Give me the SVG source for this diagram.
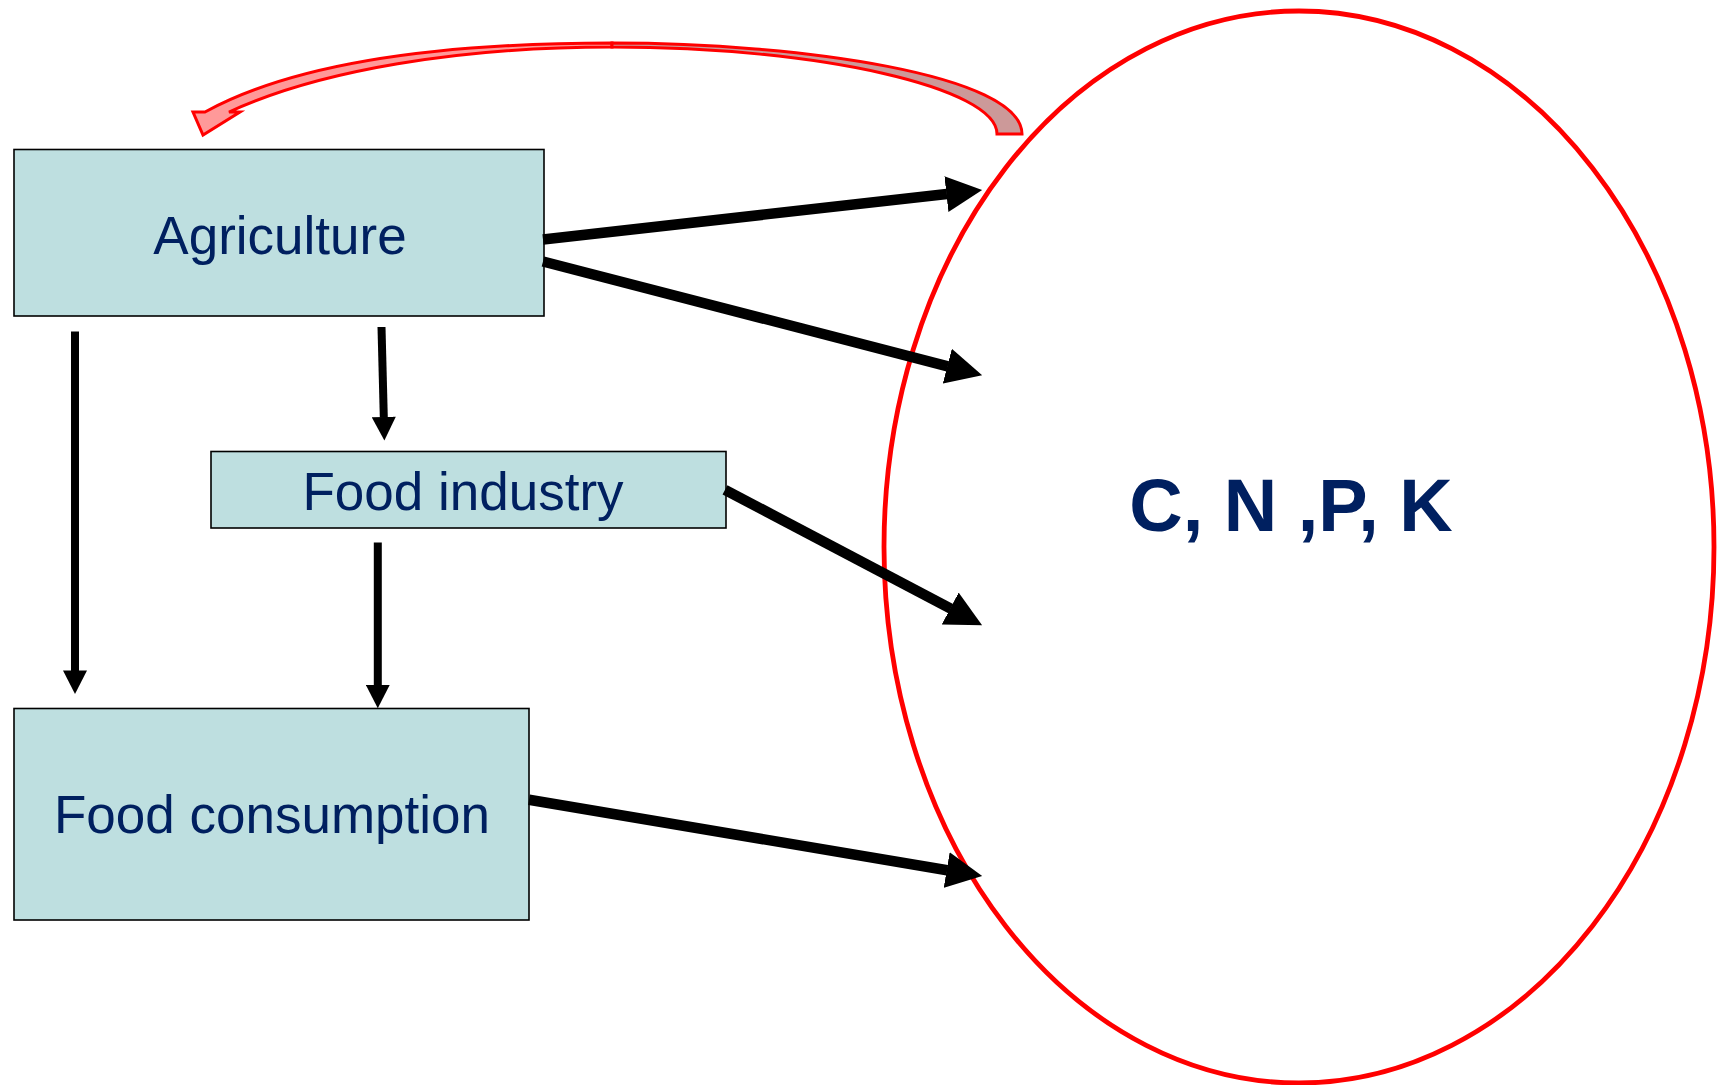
<svg xmlns="http://www.w3.org/2000/svg" width="1722" height="1085" viewBox="0 0 1722 1085">
  <style>
    .box { fill: #BEDFE0; stroke: #000000; stroke-width: 1.6; }
    .lbl { font-family: "Liberation Sans", Arial, sans-serif; font-size: 53px; fill: #002060; text-anchor: middle; }
    .big { font-family: "Liberation Sans", Arial, sans-serif; font-size: 74px; font-weight: bold; fill: #002060; text-anchor: middle; }
    .thick { stroke: #000000; stroke-width: 10.5; fill: none; marker-end: url(#bigHead); }
    .thin { stroke: #000000; stroke-width: 8; fill: none; marker-end: url(#smallHead); }
    .curve { stroke: #FF0000; stroke-width: 3; stroke-linejoin: miter; }
  </style>
  <defs>
    <marker id="bigHead" markerUnits="userSpaceOnUse" markerWidth="36" markerHeight="36" viewBox="0 0 35 35" refX="0.5" refY="17.5" orient="auto">
      <path d="M0,0 L35,17.5 L0,35 Z" fill="#000000"/>
    </marker>
    <marker id="smallHead" markerUnits="userSpaceOnUse" markerWidth="24" markerHeight="24" viewBox="0 0 23 23.5" refX="0.5" refY="11.75" orient="auto">
      <path d="M0,0 L23,11.75 L0,23.5 Z" fill="#000000"/>
    </marker>
  </defs>

  <g id="cycle">
    <ellipse cx="1299" cy="547" rx="415" ry="536" fill="none" stroke="#FF0000" stroke-width="4.8"/>
    <text class="big" x="1291" y="531">C, N ,P, K</text>
  </g>

  <g id="agriculture">
    <rect class="box" x="14" y="149.5" width="530" height="166.5"/>
    <text class="lbl" x="280" y="254">Agriculture</text>
  </g>

  <g id="food-industry">
    <rect class="box" x="211" y="451.5" width="515" height="76.5"/>
    <text class="lbl" x="463" y="510">Food industry</text>
  </g>

  <g id="food-consumption">
    <rect class="box" x="14" y="708.5" width="515" height="211.5"/>
    <text class="lbl" x="272" y="833">Food consumption</text>
  </g>

  <g id="connectors">
    <line class="thick" x1="543" y1="239.5" x2="946.9" y2="194"/>
    <line class="thick" x1="543" y1="261.5" x2="947.8" y2="366.3"/>
    <line class="thick" x1="725" y1="489.8" x2="950.7" y2="608.7"/>
    <line class="thick" x1="529" y1="799.8" x2="947.2" y2="870.2"/>
    <line class="thin" x1="75" y1="331.5" x2="75" y2="671"/>
    <line class="thin" x1="381.5" y1="327" x2="383.8" y2="417.5"/>
    <line class="thin" x1="377.8" y1="542.5" x2="377.8" y2="685.3"/>
    <g id="feedback-arrow">
      <path class="curve" fill="#FF9999" d="M612,43 C450,43 300,60 205,112 L193,112 L203,135 L240,112 L229,112 C320,70 460,47 612,47 Z"/>
      <path class="curve" fill="#CC9999" d="M612,43 C800,43 1022,75 1022,134 L997,134 C997,88 820,47 612,47 Z"/>
    </g>
  </g>
</svg>
